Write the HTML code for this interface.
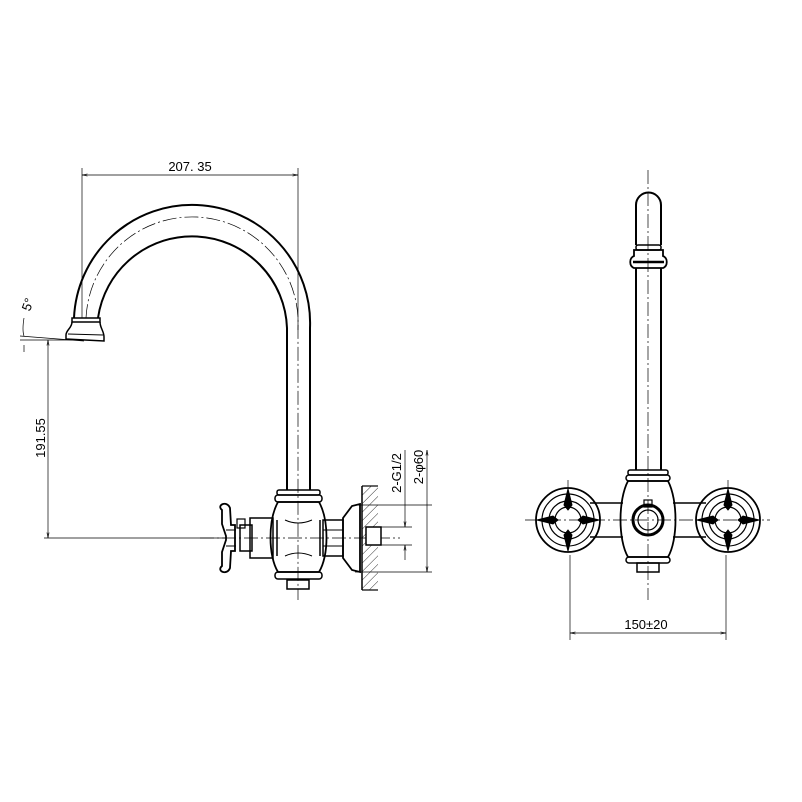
<!DOCTYPE html>
<html><head><style>body{margin:0;background:#fff}svg{display:block}</style></head>
<body>
<svg width="802" height="802" viewBox="0 0 802 802" xmlns="http://www.w3.org/2000/svg" font-family="Liberation Sans, sans-serif">
<defs>
<marker id="a" viewBox="0 0 10 10" refX="10" refY="5" markerWidth="8" markerHeight="8" orient="auto-start-reverse"><path d="M0,3 L10,5 L0,7" fill="none" stroke="#000"/></marker>
<pattern id="h" width="6" height="6" patternUnits="userSpaceOnUse" patternTransform="rotate(45)"><line x1="0" y1="0" x2="0" y2="6" stroke="#000" stroke-width="0.8"/></pattern>
</defs>
<g fill="none" stroke="#000">
<!-- dimension 207.35 -->
<line x1="82" y1="168" x2="82" y2="318" stroke-width="0.7"/>
<line x1="298" y1="168" x2="298" y2="330" stroke-width="0.7"/>
<line x1="82" y1="175" x2="298" y2="175" stroke-width="0.7" marker-start="url(#a)" marker-end="url(#a)"/>
<!-- spout -->
<path d="M74,318 A118,118 0 0 1 310,328 L310,490" stroke-width="2"/>
<path d="M98,318 A95,95 0 0 1 287,328 L287,490" stroke-width="2"/>
<path d="M86,318 A106,106 0 0 1 298,328 L298,600" stroke-width="0.7" stroke-dasharray="14,3,2,3"/>
<!-- nozzle -->
<path d="M72,318 L100,318 L100,322 L72,322 Z" stroke-width="1.5"/>
<path d="M72,322 C72,328 66,330 66,335 L66,339 L104,341 L104,337 C104,331 100,328 100,322" stroke-width="1.5"/>
<line x1="68" y1="334" x2="103" y2="335" stroke-width="1"/>
<!-- 5 deg & 191.55 -->
<line x1="20" y1="336" x2="84" y2="341" stroke-width="0.7"/>
<line x1="20" y1="340" x2="90" y2="340" stroke-width="0.7"/>
<path d="M24,318 Q22,330 24,336" stroke-width="0.7"/>
<path d="M24,345 L24,352" stroke-width="0.7"/>
<line x1="48" y1="340" x2="48" y2="538" stroke-width="0.7" marker-start="url(#a)" marker-end="url(#a)"/>
<line x1="44" y1="538" x2="225" y2="538" stroke-width="0.7"/>
<!-- left body -->
<rect x="277" y="490" width="43" height="5" rx="2" stroke-width="1.5"/>
<rect x="275" y="495" width="47" height="7" rx="3" stroke-width="1.5"/>
<path d="M278,502 C268,520 268,556 278,572 L319,572 C329,556 329,520 319,502 Z" stroke-width="1.8"/>
<line x1="277" y1="520" x2="277" y2="556" stroke-width="1.5"/>
<line x1="320" y1="520" x2="320" y2="556" stroke-width="1.5"/>
<path d="M285,520 Q298,526 312,520 M285,556 Q298,550 312,556" stroke-width="1"/>
<rect x="275" y="572" width="47" height="7" rx="3" stroke-width="1.5"/>
<rect x="287" y="580" width="22" height="9" stroke-width="1.5"/>
<rect x="323" y="520" width="20" height="36" stroke-width="1.5"/>
<line x1="323" y1="530" x2="343" y2="530" stroke-width="1"/><line x1="323" y1="546" x2="343" y2="546" stroke-width="1"/>
<path d="M343,518 L352,506 L360,504 L360,572 L352,570 L343,558 Z" stroke-width="1.8"/>
<rect x="250" y="518" width="23" height="40" stroke-width="1.5"/>
<rect x="240" y="525" width="12" height="26" stroke-width="1.5"/>
<rect x="237" y="519" width="8" height="9" stroke-width="1.2"/>
<path d="M222,510 C216,505 227,500 230,508 L231,525 L235,525 L235,551 L231,551 L230,568 C227,576 216,571 222,566 L222,552 L226,540 L226,536 L222,524 Z" stroke-width="1.8"/>
<line x1="226" y1="530" x2="236" y2="530" stroke-width="1"/><line x1="226" y1="546" x2="236" y2="546" stroke-width="1"/>
<line x1="200" y1="538" x2="400" y2="538" stroke-width="0.7" stroke-dasharray="14,3,2,3"/>
<!-- wall -->
<rect x="362" y="486" width="16" height="104" fill="url(#h)" stroke="none"/>
<line x1="362" y1="486" x2="362" y2="590" stroke-width="1.5"/>
<line x1="362" y1="486" x2="378" y2="486" stroke-width="1.2"/>
<line x1="362" y1="590" x2="378" y2="590" stroke-width="1.2"/>
<rect x="366" y="527" width="15" height="18" fill="#fff" stroke-width="1.5"/>
<!-- dims G1/2 & phi60 -->
<line x1="381" y1="527" x2="412" y2="527" stroke-width="0.7"/>
<line x1="381" y1="545" x2="412" y2="545" stroke-width="0.7"/>
<line x1="355" y1="505" x2="432" y2="505" stroke-width="0.7"/>
<line x1="355" y1="572" x2="432" y2="572" stroke-width="0.7"/>
<line x1="405" y1="450" x2="405" y2="527" stroke-width="0.7" marker-end="url(#a)"/>
<line x1="405" y1="545" x2="405" y2="560" stroke-width="0.7" marker-start="url(#a)"/>
<line x1="427" y1="450" x2="427" y2="572" stroke-width="0.7" marker-start="url(#a)" marker-end="url(#a)"/>
<line x1="427" y1="505" x2="427" y2="505" stroke-width="0.7"/>
<!-- right view -->
<line x1="648" y1="170" x2="648" y2="600" stroke-width="0.7" stroke-dasharray="14,3,2,3"/>
<path d="M636,245 L636,205 A12.5,12.5 0 0 1 661,205 L661,245" stroke-width="2"/>
<rect x="636" y="245" width="25" height="5" rx="2" stroke-width="1.5"/>
<path d="M634,250 L663,250 L663,256 C668,258 668,266 663,268 L634,268 C629,266 629,258 634,256 Z" stroke-width="1.8"/>
<line x1="633" y1="262" x2="664" y2="262" stroke-width="2.5"/>
<line x1="636" y1="268" x2="636" y2="470" stroke-width="2"/>
<line x1="661" y1="268" x2="661" y2="470" stroke-width="2"/>
<rect x="628" y="470" width="40" height="5" rx="2" stroke-width="1.5"/>
<rect x="626" y="475" width="44" height="6" rx="3" stroke-width="1.5"/>
<path d="M628,481 C618,500 618,540 628,557 L668,557 C678,540 678,500 668,481 Z" stroke-width="1.8"/>
<rect x="626" y="557" width="44" height="6" rx="3" stroke-width="1.5"/>
<rect x="637" y="563" width="22" height="9" stroke-width="1.5"/>
<circle cx="648" cy="520" r="15" stroke-width="3"/>
<circle cx="648" cy="520" r="10" stroke-width="1.2"/>
<rect x="644" y="500" width="8" height="7" stroke-width="1.2"/>
<path d="M590,503 L623,503 M590,537 L623,537 M673,503 L706,503 M673,537 L706,537" stroke-width="1.5"/>
<g id="hd">
<circle cx="568" cy="520" r="32" stroke-width="1.8"/>
<circle cx="568" cy="520" r="26" stroke-width="1.2"/>
<circle cx="568" cy="520" r="19" stroke-width="1.2"/>
<circle cx="568" cy="520" r="13" stroke-width="1.2"/>
<path d="M568,489 L572,505 L568,510 L564,505 Z M568,551 L572,535 L568,530 L564,535 Z M537,520 L553,516 L558,520 L553,524 Z M599,520 L583,516 L578,520 L583,524 Z" fill="#000" stroke-width="1"/>
</g>
<use href="#hd" transform="translate(160,0)"/>
<line x1="525" y1="520" x2="770" y2="520" stroke-width="0.7" stroke-dasharray="14,3,2,3"/>
<line x1="568" y1="480" x2="568" y2="500" stroke-width="0.7"/>
<line x1="728" y1="480" x2="728" y2="500" stroke-width="0.7"/>
<line x1="570" y1="555" x2="570" y2="640" stroke-width="0.7"/>
<line x1="726" y1="555" x2="726" y2="640" stroke-width="0.7"/>
<line x1="570" y1="633" x2="726" y2="633" stroke-width="0.7" marker-start="url(#a)" marker-end="url(#a)"/>
</g>
<g font-size="13" fill="#000">
<text x="190" y="171" text-anchor="middle">207. 35</text>
<text x="646" y="629" text-anchor="middle">150±20</text>
<text transform="translate(45,438) rotate(-90)" text-anchor="middle">191.55</text>
<text transform="translate(401,473) rotate(-90)" text-anchor="middle">2-G1/2</text>
<text transform="translate(423,467) rotate(-90)" text-anchor="middle">2-φ60</text>
<text transform="translate(32,306) rotate(-70)" text-anchor="middle">5°</text>
</g>
</svg>
</body></html>
